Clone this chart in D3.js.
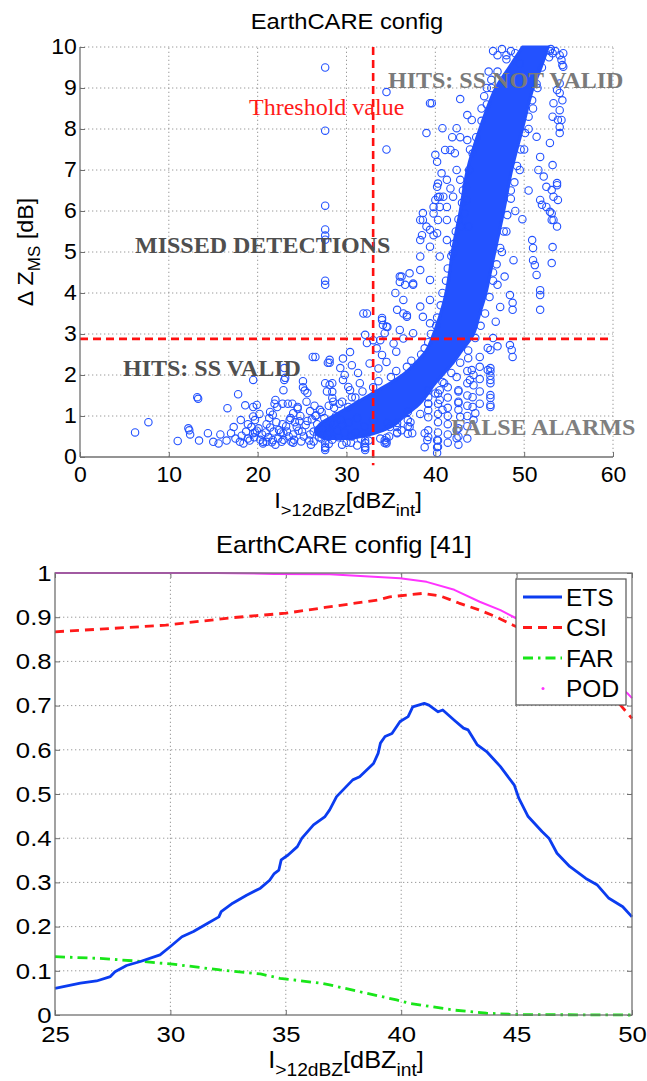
<!DOCTYPE html>
<html><head><meta charset="utf-8">
<script src="https://cdn.jsdelivr.net/npm/d3@7"></script>
<style>
body{margin:0;background:#fff}
svg{display:block}
</style>
</head><body>
<svg id="chart" width="647" height="1081"></svg>
<script>
// ---------------- DATA ----------------
// Top panel: scatter of Delta Z_MS vs integrated reflectivity
const topXTicks = [0,10,20,30,40,50,60];
const topYTicks = [0,1,2,3,4,5,6,7,8,9,10];
const thresholdX = 33;
const thresholdY = 2.88;
// dense, saturated core of overlapping markers: [y, left x, right x]
const coreBand = [
 [0.45,27.5,30.5],[0.6,26.5,33.5],[0.8,27,35.5],[1.0,28.5,36.5],[1.25,30.5,38],[1.5,32.5,39],
 [1.75,34.5,39.8],[2.0,36.3,40.8],[2.3,37.8,42],[2.6,39,43],[3.0,39.8,44.3],[3.5,40.6,45],
 [4.0,41.2,45.7],[4.5,41.6,46.2],[5.0,41.9,46.7],[6.0,42.8,47.7],[7.0,43.6,48.6],[8.0,45,49.8],
 [9.0,46.8,51],[9.5,48.3,51.9],[10.0,49.8,52.7]
];
// individual markers [x, y]
const outlierPts = [
 [6.2,0.6],[7.7,0.85],[11.0,0.39],[12.2,0.7],[12.3,0.65],[12.4,0.55],[13.2,1.46],[13.3,1.42],[13.4,0.4],[14.4,0.58],[15,0.37],[15.6,0.33],[15.8,0.55],[16.6,1.19],[17,0.58],[17.3,0.73],[17.8,1.53],[18,0.37],[18.4,0.33],[18.9,0.45],[18.6,1.26],[18.9,0.8],[19.3,0.73],[19.5,1.88],[19.5,0.99],[19.9,1.27],[19.7,0.6],[19.9,0.64],[20.6,0.33],[21,0.37],[21,0.8],[21.7,1.03],[21.9,1.3],[22.6,0.6],[22.8,0.8],[22.8,1.3],[23.0,1.88],[23.0,2.17],[23.4,1.3],[23.8,0.37],[24.5,1.18],[24.7,0.87],[25.1,1.85],[25.3,1.62],[26.2,2.44],[27.6,1.8],[27.6,0.25],[27.6,0.17],[27.9,2.3],
 [27.6,9.5],[27.6,7.96],[27.6,6.13],[27.6,5.55],[27.6,5.4],[27.6,5.3],[27.6,4.3],[27.6,4.2],[34.5,8.9],[34.5,7.5],[39.6,8.63],[42.8,8.73],[43.6,8.34],[44.1,8.22],[40.8,8.02],[39.0,7.9],[42.4,8.02],[38.3,5.78],[38.6,5.95],[40,6.27],[40.3,6.34],
 [53.2,9.85],[54.4,9.85],[54.3,9.56],[54,8.88],[54.3,8.7],[53.2,8.3],[53.8,8.22],[54,8.05],[52.9,7.66],[53.2,7.12],[53.7,6.63],[53.1,6.51],[53.8,6.27],[51.8,6.27],[52,6.15],[50.9,5.29],[51,5.1],[52.9,5.98],[53.1,5.78],[53.2,5.12],[51,4.8],[51.2,4.68],[51.4,4.44],[53.1,4.73],[51.8,4.07],[51.8,3.95],[51.8,3.59],[48.4,3.95],[48.7,3.76],[48.7,3.59],[48.7,2.44],[48.4,2.73],[48.6,2.61],[47.3,3.66],[46.2,2.61],[46.2,2.17],[46.2,2.09],[46.2,1.98],[46.2,1.8],[46.2,1.44],[46.2,1.27],[45,2.44],[44.2,1.46],[44.2,1.22],[44.5,1.07],[42.8,0.98],[42.4,0.66],[42.4,0.46],
 [39.2,0.49],[39.2,0.65],[39.2,0.97],[39.2,1.14],[39.2,1.3],[39.2,1.46],[39.2,1.63],[40.3,0.25],[40.3,0.4],[40.3,0.6],[40.3,0.85],[40.3,1.05],[40.3,1.3],[40.3,1.55],[41.4,0.35],[41.4,0.55],[41.4,0.8],[41.4,1.0],[41.4,1.2],[41.4,1.45],[41.4,1.7],[42.6,0.3],[42.6,0.5],[42.6,0.7],[42.6,1.15],[42.6,1.35],[42.6,1.6],[43.6,0.45],[43.6,0.75],[43.6,1.0],[43.6,1.25],[43.6,1.5],[43.6,1.8],[43.6,2.1],[44.3,0.9],[44.3,1.75],[44.3,2.0],[45,1.3],[45,1.6],[45,1.9],[45,2.2],
 [36.9,1.1],[36.9,0.9],[36.9,0.75],[36.9,0.57],[35.7,0.6],[35.7,0.83],[34.5,0.47],[34.5,0.37],[34.5,0.33],[32.1,0.4],[32.1,0.25],[32.1,0.17],[31.9,3.5],[34,3.34],[34.1,3.22],[35.5,4],[36.2,4.4],[36,4.27],[36.6,4.2],[28.1,2.3],[29.6,2.4],[30.6,2.24],[29.8,2],[28.4,1.8],[27.8,1.6],[28.5,1.35],[30.4,1.63],[30.6,1.46],[30.2,1.22],
 [32.3,3.5],[32.1,2.98],[32.3,2.78],[30.4,2.56],[28.1,2.37],[26.5,2.44],[29.3,2.17],[23.1,1.93],[22.9,1.63],[25.1,1.7],[25.6,1.56],[28.1,1.76],[28.4,1.59],[28.4,1.44],[29.6,1.88],[30.2,1.71],[31.3,2.05],[31.5,1.8],[21.4,1.1],[22,1.39],[22.2,1.22],[23.6,0.9],[24,1.07],[24.5,1.22],[19.5,1.22],[19.7,0.9],[19.5,0.58],[20.6,0.37],[21.7,0.41],[22.7,0.37],[27.6,0.34],[27.6,0.22],[32.1,0.34],[32.1,0.22],[34.3,0.41],[34.3,0.34],[35.7,0.58],[35.7,0.73],[34.6,0.83],[34.9,0.73],[37.1,0.73],[37.4,0.58],[38.8,0.58],[39.1,0.41],[38.8,0.24],[40.2,0.41],[40.2,0.24],[40.2,0.1],[40.5,1.39],[40.8,1.15],[40.5,1.63],[40.8,1.83],[42.4,1.95],[42.6,1.63],[42.6,1.32],[43.7,2.41],[44.1,2.12],[43.9,1.88],[45.9,2.12],[46.2,1.88],[46.2,1.51],[46.2,1.22],[45.9,2.66],[36.4,3.5],[36.8,3.46],[37.5,4.2],[34,3.39],[34.6,3.17],[34.3,3.02],
 [39.4,8.63],[41.9,7.8],[42.8,7.8],[43.6,7.73],[43.9,7.5],[40,7.37],[40.2,7.2],[41.1,7.49],[41.7,7.49],[42.2,7.41],[40.7,6.92],[41.3,6.76],[40.3,6.67],[41.7,6.55],[42,6.35],[40.5,6.35],[41.3,6.1],[39.8,6.1],[40.3,5.78],[38.6,5.78],[39.4,5.54],[38.5,5.41],[39.8,5.41],[42.4,7],[42.8,6.76],[43.1,6.5],[43.5,6.27],[43.3,5.94],[43.7,5.62],[42.8,5.62],
 [51.4,7.81],[51.8,7.32],[51.6,7.0],[52.2,6.84],[52.5,6.59],[53.3,6.35],[53.7,6.68],[53.1,5.94],[53.3,5.78],[53.7,5.62],[52.5,6.1],[54,8.46],[54.2,8.22],[54,7.9],[53.3,8.63],[53.7,8.95],[54,9.11],[54.4,9.52],[54.2,9.68],[54,9.8],
 [46.5,9.9],[47,9.8],[47.5,9.95],[48,9.7],[48.5,9.9],[49,9.85],[49.5,9.6],[53,9.95],[53.5,9.9],[52.8,9.75],[46,9.4],[46.3,9.2],[45.8,9.0],[45.5,8.8],[45.2,8.5],
 [40.2,6.59],[40.9,6.35],[40.5,6.1],[39.8,5.94],[41.3,5.78],[39,5.62],[40.2,5.46],[38.3,5.29],[39.4,5.13],[41.3,5.29],[42,4.97],[40.5,4.89],[38.3,4.89],[36,4.4],[37.1,4.48],[38.3,4.56],[37.5,4.23],[39.4,4.32],[36.4,3.83],[35.7,3.59],[36.8,3.42],[38.3,3.67],[39.4,3.83],[38.6,3.42],[34.5,3.18],[36,3.1],[37.5,3.02],[33.8,2.85],[39.4,3.26],
 [33,2.85],[33.4,2.65],[34,2.49],[32.6,2.28],[33.6,2.16],[34.5,2.32],[35.6,2.57],[35.3,2.77],[36.4,2.89],
 [20.5,0.55],[21.2,0.48],[21.8,0.62],[22.3,0.45],[22.9,0.58],[23.5,0.5],[24.1,0.42],[24.6,0.64],[25.2,0.5],[25.8,0.4],[26.3,0.62],[26.9,0.48],[27.3,0.7],[27.9,0.55],[28.4,0.42],[29,0.65],[23.2,0.75],[24.2,0.85],[25.4,0.78],[26.1,0.92],[26.7,0.8],[27.5,0.95],[28.2,0.85],[28.8,1.0],[29.5,0.78],[24.8,1.0],[25.9,1.12],[27,1.15],[28,1.25],[29.2,1.3],[31,0.6],[32,0.75],[33,0.9],[29.5,0.3],[30.5,0.35],[31.2,0.28],
 [18.2,0.52],[18.7,0.62],[19.1,0.4],[19.6,0.48],[20.1,0.7],[20.3,0.42],[20.9,0.6],[21.4,0.72],[21.6,0.36],[22.1,0.85],[22.4,0.66],[22.9,0.42],[23.3,0.62],[23.7,0.95],[24.0,0.55],[24.4,0.74],[24.9,0.38],[25.0,0.62],[25.6,0.88],[25.9,0.55],[26.3,0.38],[26.6,1.02],[26.8,0.66],[27.2,0.45],[27.8,0.78],[28.1,0.6],[28.6,0.8],[29.1,0.48],[29.3,0.92],[29.8,0.6],[30.2,0.85],[30.6,0.5],[31.2,0.95],[31.6,0.45],[21.3,0.95],[20.2,1.05],[18.1,0.9],[17.5,0.45],[16.5,0.4],[23.9,1.3],[25.5,1.35],[26.4,1.25],
 [46.5,4.5],[47,4.2],[47.5,5],[48,5.5],[49,6],[48.5,6.5],[49.5,7],[50,7.5],[50.5,8],[51,8.5],[51.5,9],[50.5,6.5],[49.8,5.8],[48.8,4.8],[47.8,4.4],[46.8,3.3],[46.5,2.9],[47,2.7]
];
// markers along the edges of the dense core [x, y]
const edgePts = [
 [26.5,1.0],[27.2,1.1],[28.6,1.2],[29.5,1.35],[31,1.45],[31.8,1.6],[33,1.7],[33.6,1.85],[35,1.95],[35.6,2.1],[36.8,2.2],[37.3,2.35],[38.4,2.5],[38.8,2.65],[39.2,2.8],[39.5,3.0],[40.1,3.2],[40.2,3.4],[40.6,3.7],[40.8,4.0],[41.2,4.3],[41.4,4.6],[41.8,4.9],[42.1,5.2],[42.3,5.5],[42.6,5.8],[43,6.2],[43.5,6.6],[43.8,7.0],[44.2,7.4],[44.6,7.8],[45.2,8.2],[45.8,8.6],[46.3,9.0],[47,9.4],[48,9.8],
 [34.8,0.5],[36.2,0.65],[37.2,0.85],[38.3,1.05],[39.2,1.3],[40,1.55],[41,1.8],[41.8,2.05],[42.8,2.3],[43.7,2.6],[44.5,2.9],[45.1,3.2],[45.6,3.5],[46.1,3.9],[46.5,4.3],[46.9,4.7],[47.3,5.1],[47.7,5.5],[48.1,5.9],[48.5,6.3],[48.9,6.7],[49.2,7.1],[49.6,7.5],[50.1,7.9],[50.5,8.3],[50.9,8.7],[51.4,9.1],[52,9.5],[52.9,9.9],
 [22,0.3],[24,0.35],[26,0.3],[28,0.32],[30,0.35],[32.5,0.4],[33.8,0.45]
];
const regionLabels = ["HITS: SS NOT VALID","Threshold value","MISSED DETECTIONS","HITS: SS VALID","FALSE ALARMS"];

// Bottom panel: skill scores vs threshold
const botXTicks = [25,30,35,40,45,50];
const botYTicks = [0,0.1,0.2,0.3,0.4,0.5,0.6,0.7,0.8,0.9,1];
const seriesNames = ["ETS","CSI","FAR","POD"];
const etsData = [[25,0.06],[26.1,0.072],[26.8,0.077],[27.4,0.087],[27.6,0.098],[28.1,0.112],[28.7,0.121],[29.55,0.136],[30,0.155],[30.5,0.177],[31,0.189],[31.6,0.207],[32.1,0.222],[32.2,0.234],[32.7,0.253],[33.3,0.271],[33.9,0.287],[34.3,0.305],[34.5,0.32],[34.7,0.328],[34.8,0.351],[35.1,0.362],[35.5,0.381],[35.7,0.4],[36.2,0.43],[36.7,0.449],[36.9,0.464],[37.2,0.494],[37.9,0.532],[38.2,0.539],[38.8,0.569],[39,0.592],[39.1,0.615],[39.3,0.63],[39.6,0.637],[39.95,0.664],[40.3,0.675],[40.5,0.697],[41,0.705],[41.2,0.701],[41.6,0.686],[41.8,0.69],[42.3,0.667],[42.7,0.649],[42.9,0.645],[43.3,0.611],[43.7,0.596],[44.3,0.562],[44.9,0.52],[45.1,0.49],[45.5,0.449],[46.1,0.415],[46.4,0.4],[46.75,0.366],[47.3,0.336],[48,0.309],[48.5,0.294],[49,0.264],[49.6,0.245],[50,0.222]];
const csiData = [[25,0.867],[26.95,0.873],[29.8,0.882],[32.7,0.899],[35,0.909],[36.7,0.922],[39,0.939],[39.5,0.946],[40.95,0.954],[41.7,0.948],[42.5,0.932],[43.4,0.916],[44.1,0.901],[44.85,0.882],[46,0.855],[47,0.82],[48,0.78],[49,0.73],[49.5,0.701],[50,0.671]];
const farData = [[25,0.132],[26.95,0.128],[28.8,0.121],[30.1,0.115],[32.15,0.102],[33.9,0.093],[34.75,0.083],[36.5,0.072],[36.9,0.068],[39.8,0.034],[40.4,0.026],[42.3,0.011],[43.7,0.004],[45,0.001],[50,0]];
const podData = [[25,1.0],[32,1.0],[34.5,0.998],[36.9,0.997],[39.95,0.988],[41.1,0.98],[42.3,0.962],[43.4,0.935],[44.3,0.916],[44.85,0.901],[46,0.87],[47,0.835],[48,0.8],[49,0.76],[49.8,0.728],[50,0.717]];

// ---------------- DRAWING ----------------
const svg = d3.select("#chart");
const SANS = "'Liberation Sans', Arial, Helvetica, sans-serif";
const SERIF = "'Liberation Serif', 'Times New Roman', serif";
const AXIS_COL = "#707070", GRID_COL = "#9a9a9a";
const MARK_COL = "#2352ff";

function styleAxis(g, fs, sx){
  g.attr("font-family", SANS).attr("font-size", fs);
  g.select(".domain").remove();
  g.selectAll(".tick line").attr("stroke", AXIS_COL).attr("stroke-width", 1);
  g.selectAll(".tick text").attr("fill", "#000").attr("transform", `scale(${sx},1)`);
}

// ===== TOP PANEL =====
const x1 = d3.scaleLinear().domain([0,60]).range([80,613]);
const y1 = d3.scaleLinear().domain([0,10]).range([457,47]);
const topG = svg.append("g");

// grid
topG.append("g").selectAll("line").data(topXTicks.filter(d=>d>0)).join("line")
  .attr("x1", d=>x1(d)).attr("x2", d=>x1(d)).attr("y1", y1(0)).attr("y2", y1(10))
  .attr("stroke", GRID_COL).attr("stroke-width", 1).attr("stroke-dasharray", "1.3,2.7");
topG.append("g").selectAll("line").data(topYTicks.filter(d=>d>0)).join("line")
  .attr("y1", d=>y1(d)).attr("y2", d=>y1(d)).attr("x1", x1(0)).attr("x2", x1(60))
  .attr("stroke", GRID_COL).attr("stroke-width", 1).attr("stroke-dasharray", "1.3,2.7");

// dense core
topG.append("path").datum(coreBand)
  .attr("d", d3.area().curve(d3.curveCatmullRom).y(d=>y1(d[0])).x0(d=>x1(d[1])).x1(d=>x1(d[2])))
  .attr("fill", MARK_COL).attr("stroke", MARK_COL).attr("stroke-width", 3).attr("stroke-linejoin","round");

// markers
topG.append("g").selectAll("circle").data(outlierPts.concat(edgePts)).join("circle")
  .attr("cx", d=>x1(d[0])).attr("cy", d=>y1(d[1])).attr("r", 3.7)
  .attr("fill", "none").attr("stroke", MARK_COL).attr("stroke-width", 1.1);

// threshold lines
topG.append("line").attr("x1", x1(thresholdX)).attr("x2", x1(thresholdX)).attr("y1", y1(10)).attr("y2", y1(-0.2))
  .attr("stroke", "#ff1010").attr("stroke-width", 2.6).attr("stroke-dasharray", "8,5");
topG.append("line").attr("x1", x1(0)).attr("x2", x1(60)).attr("y1", y1(thresholdY)).attr("y2", y1(thresholdY))
  .attr("stroke", "#ff1010").attr("stroke-width", 2.6).attr("stroke-dasharray", "8,5");

// region labels
const lblStyles = [
  {x:388, y:88, fill:"#7a7a7a", fw:"bold"},
  {x:249, y:115, fill:"#ff1a1a", fw:"normal"},
  {x:135, y:253, fill:"#4f4f4f", fw:"bold"},
  {x:123, y:376, fill:"#4f4f4f", fw:"bold"},
  {x:451, y:435, fill:"#7f7f7f", fw:"bold"}
];
topG.append("g").selectAll("text").data(regionLabels).join("text")
  .attr("x", (d,i)=>lblStyles[i].x).attr("y", (d,i)=>lblStyles[i].y)
  .attr("font-family", SERIF).attr("font-size", 24)
  .attr("font-weight", (d,i)=>lblStyles[i].fw).attr("fill", (d,i)=>lblStyles[i].fill)
  .text(d=>d);

// axes
topG.append("line").attr("x1", x1(0)).attr("x2", x1(0)).attr("y1", y1(0)).attr("y2", y1(10)).attr("stroke", AXIS_COL).attr("stroke-width", 1.3);
topG.append("line").attr("x1", x1(0)).attr("x2", x1(60)).attr("y1", y1(0)).attr("y2", y1(0)).attr("stroke", AXIS_COL).attr("stroke-width", 1.3);
topG.append("g").attr("transform", `translate(${x1(0)},0)`)
  .call(d3.axisLeft(y1).tickValues(topYTicks).tickSize(-5).tickPadding(3).tickFormat(d3.format("d")))
  .call(g=>styleAxis(g, 21.5, 1.07));
topG.append("g").attr("transform", `translate(0,${y1(0)})`)
  .call(d3.axisBottom(x1).tickValues(topXTicks).tickSize(-5).tickPadding(10).tickFormat(d3.format("d")))
  .call(g=>styleAxis(g, 21.5, 1.07));

// title
topG.append("text").attr("transform", "translate(347,29) scale(1.08,1)").attr("text-anchor","middle")
  .attr("font-family", SANS).attr("font-size", 22).text("EarthCARE config");

// x label
function xLabel(g, cx, y, fs, sfs, sx){
  const t = g.append("text").attr("transform", `translate(${cx},${y}) scale(${sx},1)`).attr("text-anchor","middle")
    .attr("font-family", SANS).attr("font-size", fs).attr("fill","#000");
  t.append("tspan").text("I");
  t.append("tspan").attr("dy", 8).attr("font-size", sfs).text(">12dBZ");
  t.append("tspan").attr("dy", -8).text("[dBZ");
  t.append("tspan").attr("dy", 8).attr("font-size", sfs).text("int");
  t.append("tspan").attr("dy", -8).text("]");
}
xLabel(topG, 348, 508, 22, 17, 1.08);

// y label
{
  const t = topG.append("text").attr("transform", "translate(33,252) rotate(-90) scale(1.06,1)")
    .attr("text-anchor","middle").attr("font-family", SANS).attr("font-size", 22);
  t.append("tspan").text("\u0394 Z");
  t.append("tspan").attr("dy", 7).attr("font-size", 16).text("MS");
  t.append("tspan").attr("dy", -7).text(" [dB]");
}

// ===== BOTTOM PANEL =====
const x2 = d3.scaleLinear().domain([25,50]).range([55,632]);
const y2 = d3.scaleLinear().domain([0,1]).range([1015,573]);
const botG = svg.append("g");

botG.append("g").selectAll("line").data(botXTicks.filter(d=>d>25 && d<50)).join("line")
  .attr("x1", d=>x2(d)).attr("x2", d=>x2(d)).attr("y1", y2(0)).attr("y2", y2(1))
  .attr("stroke", GRID_COL).attr("stroke-width", 1).attr("stroke-dasharray", "1.3,2.7");
botG.append("g").selectAll("line").data(botYTicks.filter(d=>d>0 && d<1)).join("line")
  .attr("y1", d=>y2(d)).attr("y2", d=>y2(d)).attr("x1", x2(25)).attr("x2", x2(50))
  .attr("stroke", GRID_COL).attr("stroke-width", 1).attr("stroke-dasharray", "1.3,2.7");

// axes ticks
botG.append("g").attr("transform", `translate(${x2(25)},0)`)
  .call(d3.axisLeft(y2).tickValues(botYTicks).tickSize(-5).tickPadding(3).tickFormat(d=>d3.format("")(+d.toFixed(1))))
  .call(g=>styleAxis(g, 23, 1.12));
botG.append("g").attr("transform", `translate(0,${y2(0)})`)
  .call(d3.axisBottom(x2).tickValues(botXTicks).tickSize(-5).tickPadding(11).tickFormat(d3.format("d")))
  .call(g=>styleAxis(g, 23, 1.12));
botG.append("g").attr("transform", `translate(${x2(50)},0)`)
  .call(d3.axisRight(y2).tickValues(botYTicks).tickSize(-5).tickFormat(""))
  .call(g=>styleAxis(g, 23, 1));
botG.append("g").attr("transform", `translate(0,${y2(1)})`)
  .call(d3.axisTop(x2).tickValues(botXTicks).tickSize(-5).tickFormat(""))
  .call(g=>styleAxis(g, 23, 1));

// lines
const line2 = d3.line().x(d=>x2(d[0])).y(d=>y2(d[1]));
const styles = {
  ETS:{color:"#0b3cf0", w:2.8, dash:null},
  CSI:{color:"#ff1a1a", w:2.8, dash:"9,6"},
  FAR:{color:"#19e619", w:2.8, dash:"10,5,2.5,5"},
  POD:{color:"#ff33ff", w:2, dash:null}
};
const seriesData = {ETS:etsData, CSI:csiData, FAR:farData, POD:podData};
["POD","CSI","FAR","ETS"].forEach(n=>{
  botG.append("path").datum(seriesData[n]).attr("d", line2).attr("fill","none")
    .attr("stroke", styles[n].color).attr("stroke-width", styles[n].w)
    .attr("stroke-dasharray", styles[n].dash).attr("stroke-linejoin","round");
});

// box
botG.append("rect").attr("x", x2(25)).attr("y", y2(1)).attr("width", x2(50)-x2(25)).attr("height", y2(0)-y2(1))
  .attr("fill","none").attr("stroke", AXIS_COL).attr("stroke-width", 1.3);

// legend
const lg = botG.append("g").attr("transform","translate(516,579)");
lg.append("rect").attr("width",110).attr("height",126).attr("fill","#fff").attr("stroke","#555").attr("stroke-width",1.2);
seriesNames.forEach((n,i)=>{
  const yy = 18 + i*30.5;
  if(n==="POD"){
    lg.append("circle").attr("cx",27).attr("cy",yy).attr("r",1.5).attr("fill",styles[n].color);
  } else {
    lg.append("line").attr("x1",7).attr("x2",46).attr("y1",yy).attr("y2",yy)
      .attr("stroke",styles[n].color).attr("stroke-width",styles[n].w).attr("stroke-dasharray",styles[n].dash);
  }
  lg.append("text").attr("x",50).attr("y",yy).attr("dy","0.36em").attr("font-family",SANS).attr("font-size",24.5).text(n);
});

// title
botG.append("text").attr("transform", "translate(344,553) scale(1.06,1)").attr("text-anchor","middle")
  .attr("font-family", SANS).attr("font-size", 24).text("EarthCARE config [41]");
xLabel(botG, 346, 1068, 23, 17.5, 1.1);
</script>
</body></html>
